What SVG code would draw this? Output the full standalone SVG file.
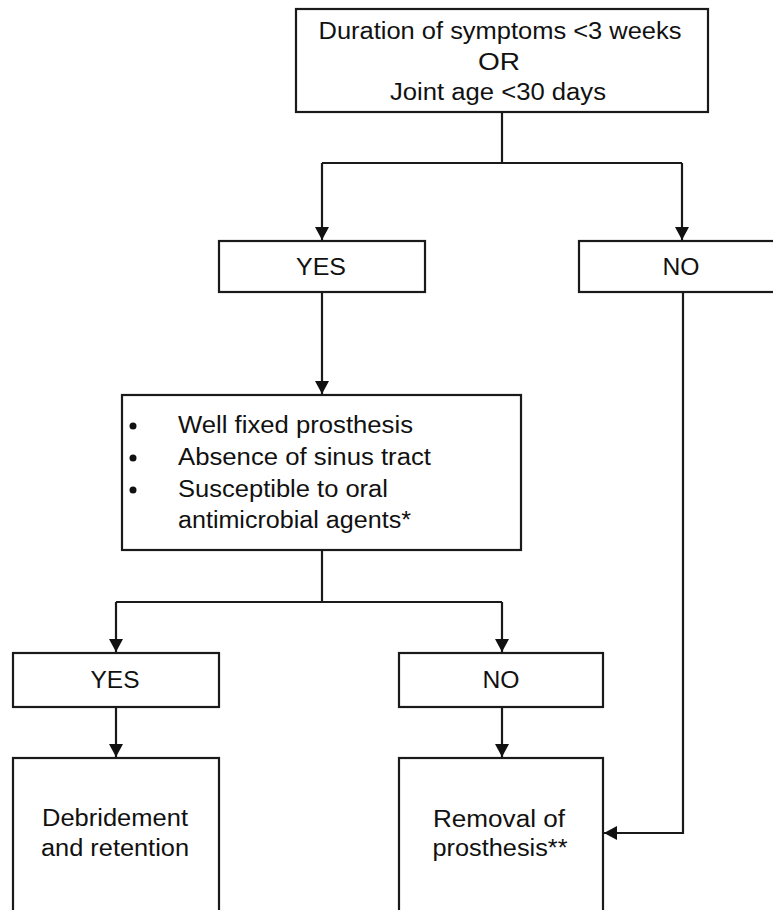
<svg xmlns="http://www.w3.org/2000/svg" width="773" height="910" viewBox="0 0 773 910">
<style>
  .box { fill: #fff; stroke: #1a1a1a; stroke-width: 2.2; }
  .t { font-family: "Liberation Sans", Arial, sans-serif; font-size: 23px; fill: #111; }
  .c { text-anchor: middle; }
  .ln { fill: none; stroke: #1a1a1a; stroke-width: 2.2; }
</style>
<defs>
  <marker id="ah" viewBox="0 0 13 14" refX="13" refY="7" markerWidth="13" markerHeight="14" markerUnits="userSpaceOnUse" orient="auto">
    <path d="M0,0 L13,7 L0,14 Z" fill="#111"/>
  </marker>
</defs>
<rect width="773" height="910" fill="#fff"/>

<g id="connectors">
  <path class="ln" d="M502,112 V163"/>
  <path class="ln" d="M322,163 H682"/>
  <path class="ln" d="M322,163 V240" marker-end="url(#ah)"/>
  <path class="ln" d="M682,163 V240" marker-end="url(#ah)"/>
  <path class="ln" d="M322,292 V394" marker-end="url(#ah)"/>
  <path class="ln" d="M322,550 V602"/>
  <path class="ln" d="M116,602 H502"/>
  <path class="ln" d="M116,602 V652" marker-end="url(#ah)"/>
  <path class="ln" d="M502,602 V652" marker-end="url(#ah)"/>
  <path class="ln" d="M116,707 V757" marker-end="url(#ah)"/>
  <path class="ln" d="M502,707 V757" marker-end="url(#ah)"/>
  <path class="ln" d="M683,292 V833 H604" marker-end="url(#ah)"/>
</g>

<g id="n_start">
  <rect class="box" x="296" y="9" width="412" height="103"/>
  <text class="t c" x="500" y="39" textLength="363" lengthAdjust="spacingAndGlyphs">Duration of symptoms &lt;3 weeks</text>
  <text class="t c" x="499" y="70" textLength="42" lengthAdjust="spacingAndGlyphs">OR</text>
  <text class="t c" x="498" y="100" textLength="216" lengthAdjust="spacingAndGlyphs">Joint age &lt;30 days</text>
</g>

<g id="n_yes1">
  <rect class="box" x="219" y="241" width="206" height="51"/>
  <text class="t c" x="321" y="275" textLength="50" lengthAdjust="spacingAndGlyphs">YES</text>
</g>

<g id="n_no1">
  <rect class="box" x="579" y="241" width="210" height="51"/>
  <text class="t c" x="681" y="275" textLength="37" lengthAdjust="spacingAndGlyphs">NO</text>
</g>

<g id="n_criteria">
  <rect class="box" x="122" y="395" width="399" height="155"/>
  <circle cx="133" cy="426" r="3.5" fill="#111"/>
  <circle cx="133" cy="458" r="3.5" fill="#111"/>
  <circle cx="133" cy="490" r="3.5" fill="#111"/>
  <text class="t" x="178" y="433" textLength="235" lengthAdjust="spacingAndGlyphs">Well fixed prosthesis</text>
  <text class="t" x="178" y="465" textLength="253" lengthAdjust="spacingAndGlyphs">Absence of sinus tract</text>
  <text class="t" x="178" y="497" textLength="210" lengthAdjust="spacingAndGlyphs">Susceptible to oral</text>
  <text class="t" x="178" y="528" textLength="233" lengthAdjust="spacingAndGlyphs">antimicrobial agents*</text>
</g>

<g id="n_yes2">
  <rect class="box" x="13" y="653" width="206" height="54"/>
  <text class="t c" x="115" y="688" textLength="49" lengthAdjust="spacingAndGlyphs">YES</text>
</g>

<g id="n_no2">
  <rect class="box" x="399" y="653" width="204" height="54"/>
  <text class="t c" x="501" y="688" textLength="37" lengthAdjust="spacingAndGlyphs">NO</text>
</g>

<g id="n_debridement">
  <rect class="box" x="13" y="758" width="206" height="170"/>
  <text class="t c" x="115" y="826" textLength="146" lengthAdjust="spacingAndGlyphs">Debridement</text>
  <text class="t c" x="115" y="856" textLength="148" lengthAdjust="spacingAndGlyphs">and retention</text>
</g>

<g id="n_removal">
  <rect class="box" x="399" y="758" width="204" height="170"/>
  <text class="t c" x="499" y="827" textLength="132" lengthAdjust="spacingAndGlyphs">Removal of</text>
  <text class="t c" x="500" y="856" textLength="135" lengthAdjust="spacingAndGlyphs">prosthesis**</text>
</g>
</svg>
